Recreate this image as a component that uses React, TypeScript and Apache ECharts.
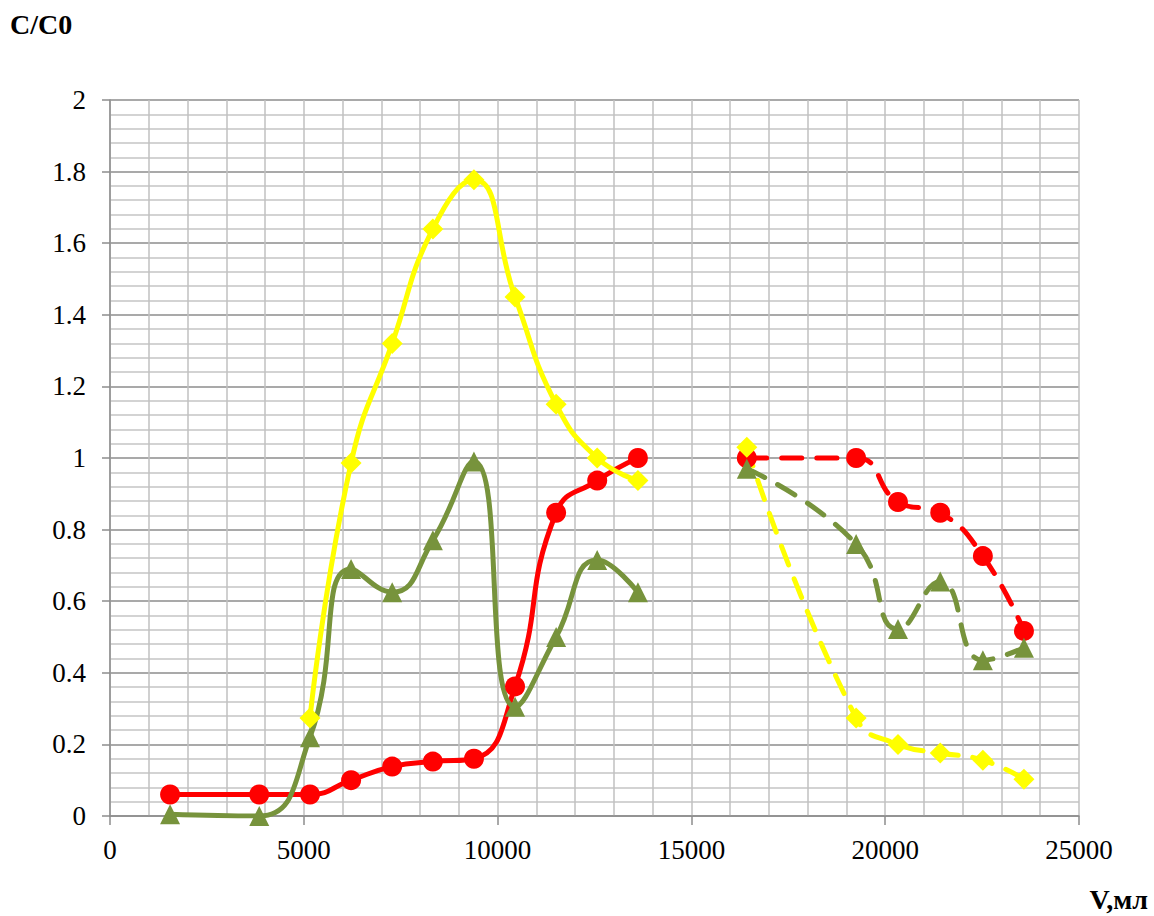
import React, { useEffect, useRef } from "react";
import * as echarts from "echarts";

// Volumes (ml) for the first run and for the second run
const volumesA = [1550, 3850, 5160, 6220, 7280, 8330, 9390, 10450, 11510, 12570, 13620];
const volumesB = [16430, 19250, 20330, 21420, 22520, 23580];

// C/C0 values, first run (solid)
const redA = [0.06, 0.06, 0.06, 0.1, 0.138, 0.152, 0.16, 0.362, 0.847, 0.937, 1.0];
const yellowA = [null, null, 0.274, 0.986, 1.32, 1.64, 1.777, 1.45, 1.15, 1.0, 0.937];
const greenA = [0.005, 0.0, 0.22, 0.69, 0.625, 0.77, 0.99, 0.305, 0.5, 0.715, 0.625];

// C/C0 values, second run (dashed)
const redB = [1.0, 1.0, 0.877, 0.847, 0.726, 0.517];
const yellowB = [1.03, 0.274, 0.2, 0.176, 0.156, 0.103];
const greenB = [0.97, 0.76, 0.522, 0.655, 0.435, 0.47];

const RED = "#ff0000";
const YELLOW = "#ffff00";
const GREEN = "#77933c";
const FONT = "Liberation Serif";

const pairs = (xs: number[], ys: (number | null)[]) =>
  xs.map((x, i) => [x, ys[i]]).filter((p) => p[1] !== null);

function makeSeries(
  name: string,
  xs: number[],
  ys: (number | null)[],
  color: string,
  symbol: string,
  size: number,
  dashed: boolean
) {
  return {
    name,
    type: "line",
    data: pairs(xs, ys),
    smooth: 0.5,
    symbol,
    symbolSize: size,
    showAllSymbol: true,
    itemStyle: { color },
    lineStyle: dashed
      ? { color, width: 5, type: [20, 15], cap: "round" }
      : { color, width: 5 },
  };
}

// Tick labels are rendered as rich text so the serif face is applied per token
const tickRich = {
  t: { color: "#000", fontSize: 27, fontFamily: FONT, fontWeight: "normal" },
};

export default function App() {
  const ref = useRef<HTMLDivElement>(null);

  useEffect(() => {
    if (!ref.current) return;
    const chart = echarts.init(ref.current, null, { renderer: "svg" });
    chart.setOption({
      animation: false,
      textStyle: { fontFamily: FONT },
      grid: { left: 110, top: 100, right: 75, bottom: 100, containLabel: false },
      xAxis: {
        type: "value",
        min: 0,
        max: 25000,
        interval: 5000,
        axisLine: { show: true, lineStyle: { color: "#8c8c8c", width: 1.5 } },
        axisTick: { show: true, length: 9, lineStyle: { color: "#8c8c8c", width: 1.5 } },
        axisLabel: {
          color: "#000",
          fontSize: 27,
          fontFamily: FONT,
          margin: 20,
          formatter: (v: number) => `{t|${v}}`,
          rich: tickRich,
        },
        splitLine: { show: true, lineStyle: { color: "#c0c0c0", width: 1.5 } },
        minorTick: { show: false, splitNumber: 5 },
        minorSplitLine: { show: true, lineStyle: { color: "#c0c0c0", width: 1.5 } },
      },
      yAxis: {
        type: "value",
        min: 0,
        max: 2,
        interval: 0.2,
        axisLine: { show: true, lineStyle: { color: "#8c8c8c", width: 1.5 } },
        axisTick: { show: true, length: 8, lineStyle: { color: "#8c8c8c", width: 1.5 } },
        axisLabel: {
          color: "#000",
          fontSize: 27,
          fontFamily: FONT,
          margin: 24,
          formatter: (v: number) => `{t|${Math.round(v * 10) / 10}}`,
          rich: tickRich,
        },
        splitLine: { show: true, lineStyle: { color: "#8c8c8c", width: 1.5 } },
        minorTick: { show: false, splitNumber: 5 },
        minorSplitLine: { show: true, lineStyle: { color: "#c4c4c4", width: 1.5 } },
      },
      graphic: [
        {
          type: "text",
          left: 10,
          top: 10,
          style: { text: "C/C0", fontFamily: FONT, fontWeight: "bold", fontSize: 28, fill: "#000" },
        },
        {
          type: "text",
          right: 6,
          top: 885,
          style: { text: "V,мл", fontFamily: FONT, fontWeight: "bold", fontSize: 28, fill: "#000" },
        },
      ],
      series: [
        makeSeries("red-1", volumesA, redA, RED, "circle", 20, false),
        makeSeries("yellow-1", volumesA, yellowA, YELLOW, "diamond", 21, false),
        makeSeries("green-1", volumesA, greenA, GREEN, "triangle", 20, false),
        makeSeries("red-2", volumesB, redB, RED, "circle", 20, true),
        makeSeries("green-2", volumesB, greenB, GREEN, "triangle", 20, true),
        makeSeries("yellow-2", volumesB, yellowB, YELLOW, "diamond", 21, true),
      ],
    });
    return () => chart.dispose();
  }, []);

  return <div ref={ref} style={{ width: 1154, height: 916, position: "absolute", left: 0, top: 0 }} />;
}
